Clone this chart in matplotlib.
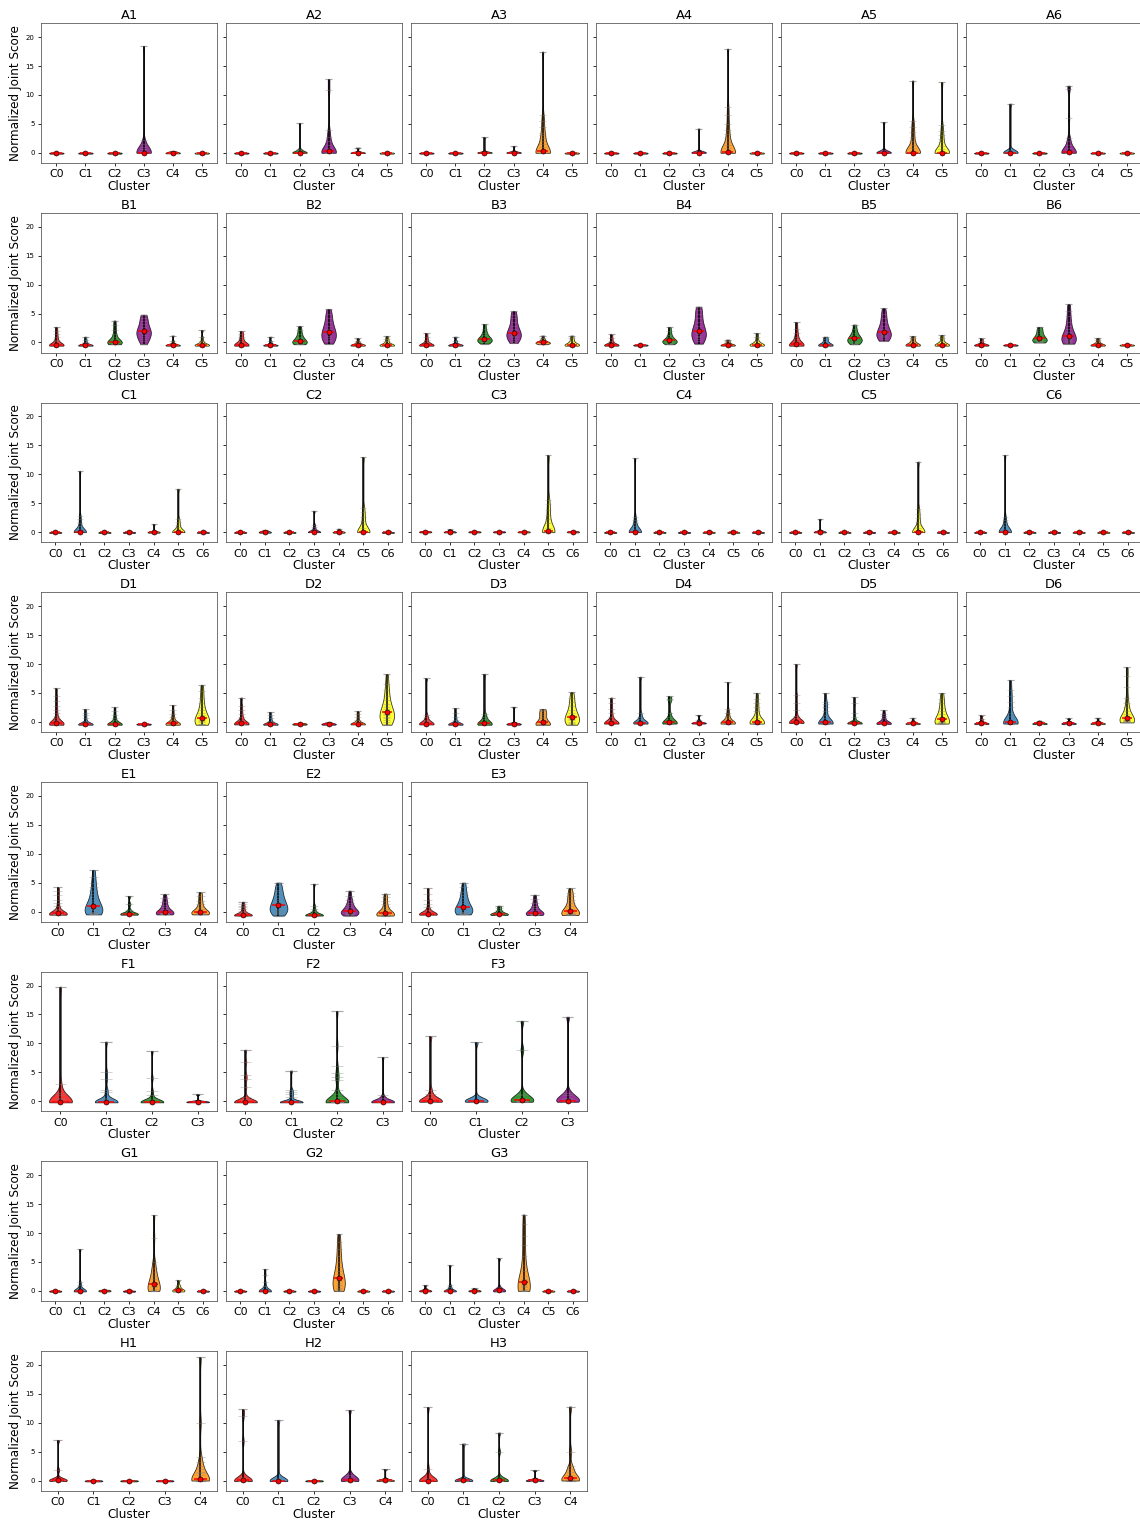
import numpy as np
import matplotlib.pyplot as plt

# one colour per cluster index
colors = ['red', '#1f77b4', 'green', 'purple', 'darkorange', 'yellow', 'grey']

# near-zero clusters
flat = [-0.15, -0.1, -0.05, 0.0, 0.05]
flat_b = [-0.55, -0.5, -0.45, -0.4, -0.35]

# ---- row A ----
A1 = [flat, flat, flat,
      [0, 0, 0, 0, 0, 0, 0, 0, 0, 0, 0.1, 0.3, 0.6, 1.0, 1.5, 2.2, 18.5],
      [-0.1, -0.05, 0.0, 0.05, 0.3], flat]
A2 = [flat, flat,
      [0, 0, 0, 0, 0, 0, 0.05, 0.1, 0.2, 0.4, 0.7, 5.1],
      [0, 0, 0, 0, 0, 0, 0, 0.2, 0.5, 0.9, 1.4, 2.0, 2.8, 4.0, 10.8, 12.7],
      [-0.05, 0, 0, 0.1, 0.9], flat]
A3 = [flat, flat,
      [0, 0, 0, 0, 0, 0.05, 0.1, 0.2, 2.7],
      [0, 0, 0, 0, 0.05, 0.1, 0.3, 1.2],
      [0, 0, 0, 0, 0, 0, 0, 0, 0, 0, 0, 0.5, 1, 1.5, 2, 2.5, 3, 3.5, 4.5, 5.5, 6.5, 17.5],
      flat]
A4 = [flat, flat, flat,
      [0, 0, 0, 0, 0, 0.05, 0.1, 0.2, 0.3, 4.2],
      [0, 0, 0, 0, 0, 0, 0, 0, 0, 0, 0, 0.3, 0.8, 1.3, 1.8, 2.5, 3.2, 4, 5, 6.5, 8, 18],
      flat]
A5 = [flat, flat, flat,
      [0, 0, 0, 0, 0, 0.05, 0.1, 0.3, 0.5, 5.3],
      [0, 0, 0, 0, 0, 0, 0, 0, 0, 0, 0.3, 0.8, 1.3, 2, 2.8, 3.6, 4.5, 5.5, 12.5],
      [0, 0, 0, 0, 0, 0, 0, 0, 0, 0, 0.3, 0.7, 1.2, 1.8, 2.4, 3, 3.8, 4.8, 12.2]]
A6 = [flat,
      [0, 0, 0, 0, 0, 0.05, 0.1, 0.2, 0.4, 8.5],
      flat,
      [0, 0, 0, 0, 0, 0, 0, 0, 0.2, 0.5, 0.9, 1.4, 2, 2.6, 6, 11, 11.6],
      flat, flat]

# ---- row B ----
B1 = [[-0.55, -0.5, -0.5, -0.5, -0.5, -0.5, -0.5, -0.45, -0.4, -0.3, -0.1, 0.2, 0.5, 0.9, 1.4, 2.0, 2.7],
      [-0.55, -0.5, -0.5, -0.5, -0.5, -0.45, -0.4, -0.2, 0.1, 0.5, 1.0],
      [-0.3, -0.25, -0.2, -0.1, 0, 0.05, 0.1, 0.15, 0.3, 0.6, 1.0, 1.5, 2.2, 3.0, 3.8],
      [-0.3, 0.2, 0.6, 1.0, 1.3, 1.6, 1.8, 2.0, 2.3, 2.7, 3.2, 3.8, 4.3, 4.8],
      [-0.55, -0.5, -0.5, -0.5, -0.45, -0.4, -0.3, -0.1, 0.3, 1.2],
      [-0.55, -0.5, -0.5, -0.5, -0.45, -0.4, -0.3, -0.1, 0.3, 0.9, 2.1]]
B2 = [[-0.55, -0.5, -0.5, -0.5, -0.5, -0.45, -0.4, -0.3, -0.1, 0.2, 0.6, 1.0, 1.5, 2.0],
      [-0.55, -0.5, -0.5, -0.5, -0.45, -0.4, -0.2, 0.2, 1.0],
      [-0.3, -0.2, -0.1, 0, 0.1, 0.2, 0.4, 0.7, 1.0, 1.5, 2.1, 2.8],
      [-0.2, 0.2, 0.5, 0.8, 1.1, 1.4, 1.7, 2.0, 2.4, 2.9, 3.5, 4.2, 5.0, 5.8],
      [-0.55, -0.5, -0.5, -0.45, -0.4, -0.3, -0.1, 0.2, 0.7],
      [-0.55, -0.5, -0.5, -0.5, -0.45, -0.4, -0.2, 0.2, 0.6, 1.1]]
B3 = [[-0.55, -0.5, -0.5, -0.5, -0.5, -0.45, -0.4, -0.2, 0.1, 0.5, 1.0, 1.6],
      [-0.55, -0.5, -0.5, -0.45, -0.4, -0.2, 0.3, 1.0],
      [-0.2, 0, 0.1, 0.3, 0.4, 0.5, 0.6, 0.8, 1.0, 1.3, 1.7, 2.3, 3.2],
      [-0.1, 0.3, 0.6, 0.9, 1.1, 1.3, 1.5, 1.7, 2.0, 2.4, 2.9, 3.5, 4.2, 4.8, 5.4],
      [-0.3, -0.2, -0.1, -0.05, 0, 0.05, 0.2, 0.4, 0.7, 1.2],
      [-0.55, -0.5, -0.5, -0.45, -0.4, -0.3, -0.1, 0.3, 0.7, 1.2]]
B4 = [[-0.55, -0.5, -0.5, -0.5, -0.45, -0.4, -0.3, -0.1, 0.3, 0.8, 1.4],
      flat_b,
      [-0.3, -0.1, 0, 0.1, 0.2, 0.3, 0.4, 0.6, 0.9, 1.3, 1.9, 2.7],
      [-0.2, 0.2, 0.6, 0.9, 1.2, 1.5, 1.7, 2.0, 2.4, 2.9, 3.5, 4.2, 5.0, 5.7, 6.2],
      [-0.55, -0.5, -0.5, -0.45, -0.4, -0.3, -0.1, 0.2, 0.5],
      [-0.55, -0.5, -0.5, -0.45, -0.4, -0.3, -0.1, 0.3, 0.9, 1.6]]
B5 = [[-0.55, -0.5, -0.5, -0.5, -0.5, -0.45, -0.4, -0.3, -0.1, 0.2, 0.6, 1.0, 1.6, 2.4, 3.5],
      [-0.55, -0.5, -0.5, -0.45, -0.4, -0.2, 0.2, 0.6, 1.0],
      [-0.3, -0.1, 0.1, 0.3, 0.4, 0.6, 0.8, 1.0, 1.3, 1.7, 2.3, 3.1],
      [0.3, 0.6, 0.9, 1.1, 1.3, 1.5, 1.7, 2.0, 2.4, 2.9, 3.5, 4.2, 5.0, 5.9],
      [-0.55, -0.5, -0.5, -0.45, -0.4, -0.3, -0.1, 0.3, 0.7, 1.1],
      [-0.55, -0.5, -0.5, -0.45, -0.4, -0.3, -0.1, 0.3, 0.8, 1.3]]
B6 = [[-0.55, -0.5, -0.5, -0.45, -0.4, -0.3, -0.1, 0.3, 0.7],
      flat_b,
      [0, 0.1, 0.2, 0.3, 0.4, 0.5, 0.6, 0.8, 1.0, 1.3, 1.6, 2.0, 2.4, 2.7],
      [-0.2, -0.1, 0, 0.2, 0.4, 0.6, 0.8, 0.9, 1.1, 1.4, 1.8, 2.3, 2.9, 3.6, 4.5, 5.5, 6.6],
      [-0.55, -0.5, -0.5, -0.45, -0.4, -0.3, 0, 0.4, 0.8],
      flat_b]

# ---- row C ----
C1 = [flat,
      [0, 0, 0, 0, 0, 0, 0, 0, 0, 0.1, 0.3, 0.6, 1.0, 1.5, 2.2, 2.8, 10.6],
      flat, flat,
      [-0.1, -0.05, 0, 0, 0.05, 0.1, 1.4],
      [0, 0, 0, 0, 0, 0, 0, 0, 0.2, 0.5, 0.9, 1.3, 1.8, 2.3, 7.5],
      flat]
C2 = [flat,
      [-0.1, -0.05, 0, 0.05, 0.1, 0.3],
      flat,
      [0, 0, 0, 0, 0, 0, 0, 0.1, 0.3, 0.6, 0.9, 1.3, 3.7],
      [-0.1, -0.05, 0, 0.05, 0.1, 0.6],
      [0, 0, 0, 0, 0, 0, 0, 0, 0, 0.3, 0.8, 1.4, 2.0, 2.7, 3.4, 4.2, 13.0],
      flat]
C3 = [[-0.05, 0, 0.05, 0.1, 0.2],
      [-0.05, 0, 0.05, 0.1, 0.5],
      [-0.05, 0, 0.05, 0.1, 0.15],
      [-0.05, 0, 0.05, 0.1, 0.15],
      [-0.05, 0, 0.05, 0.1, 0.15],
      [0, 0, 0, 0, 0, 0, 0, 0, 0, 0.3, 0.8, 1.5, 2.2, 3, 3.8, 4.8, 5.6, 13.3],
      [-0.05, 0, 0.05, 0.1, 0.2]]
C4 = [flat,
      [0, 0, 0, 0, 0, 0, 0, 0, 0, 0.1, 0.3, 0.6, 1.0, 1.5, 2.1, 2.7, 12.8],
      flat, flat, flat, flat, flat]
C5 = [flat,
      [-0.05, 0, 0, 0.05, 0.1, 0.3, 2.3],
      flat, flat, flat,
      [0, 0, 0, 0, 0, 0, 0, 0, 0, 0.3, 0.7, 1.2, 1.8, 2.5, 3.2, 4.0, 12.2],
      flat]
C6 = [flat,
      [0, 0, 0, 0, 0, 0, 0, 0, 0, 0.1, 0.3, 0.6, 1.0, 1.5, 2.1, 2.7, 13.3],
      flat, flat, flat, flat, flat]

# ---- row D ----
D1 = [[-0.5] * 6 + [-0.45, -0.4, -0.4, -0.35, -0.3, -0.25, -0.2, -0.1, 0, 0.1, 0.3, 0.6, 1.0, 1.5, 2.1, 2.8, 3.6, 4.5, 5.8],
      [-0.5] * 5 + [-0.45, -0.4, -0.4, -0.35, -0.3, -0.2, -0.1, 0.2, 0.6, 1.1, 1.6, 2.2],
      [-0.5] * 5 + [-0.45, -0.4, -0.4, -0.3, -0.2, 0, 0.3, 0.7, 1.2, 1.8, 2.5],
      [-0.5, -0.45, -0.4, -0.4, -0.35, -0.3],
      [-0.5] * 3 + [-0.45, -0.4, -0.4, -0.35, -0.3, -0.2, -0.1, 0.1, 0.4, 0.8, 1.3, 2.0, 2.9],
      [-0.5, -0.45, -0.4, -0.3, -0.1, 0.1, 0.3, 0.5, 0.6, 0.8, 1.1, 1.5, 2.0, 2.6, 3.3, 4.2, 5.3, 6.4]]
D2 = [[-0.45] * 5 + [-0.4, -0.4, -0.35, -0.3, -0.2, -0.1, 0.1, 0.4, 0.8, 1.3, 2.0, 2.8, 4.2],
      [-0.5] * 4 + [-0.45, -0.4, -0.4, -0.35, -0.3, -0.1, 0.2, 0.6, 1.1, 1.7],
      [-0.5, -0.45, -0.4, -0.35, -0.3, -0.2],
      [-0.5, -0.45, -0.4, -0.35, -0.3, -0.1],
      [-0.45] * 4 + [-0.4, -0.4, -0.35, -0.3, -0.2, 0, 0.3, 0.8, 1.3, 1.8],
      [-0.5, -0.3, 0, 0.3, 0.6, 0.9, 1.1, 1.3, 1.5, 1.8, 2.2, 2.6, 3.1, 3.7, 4.5, 5.5, 6.5, 8.2]]
D3 = [[-0.45] * 5 + [-0.4, -0.4, -0.35, -0.3, -0.2, -0.1, 0.1, 0.4, 0.8, 1.2, 7.5],
      [-0.5] * 4 + [-0.45, -0.4, -0.4, -0.35, -0.3, -0.1, 0.3, 0.8, 1.5, 2.4],
      [-0.5] * 3 + [-0.45, -0.4, -0.35, -0.3, -0.2, 0, 0.2, 0.5, 0.9, 1.4, 8.3],
      [-0.5, -0.45, -0.4, -0.35, -0.3, -0.2, 2.6],
      [-0.5] * 4 + [-0.45, -0.4, -0.3, -0.2, 0, 0.3, 0.6, 0.9, 1.2, 1.5, 1.8, 2.0, 2.2],
      [-0.5, -0.4, -0.2, 0, 0.3, 0.5, 0.7, 0.9, 1.2, 1.6, 2.1, 2.7, 3.4, 4.2, 5.1]]
D4 = [[-0.3] * 6 + [-0.25, -0.2, -0.15, -0.1, 0.1, 0.4, 0.9, 1.5, 2.3, 3.2, 4.2],
      [-0.3] * 4 + [-0.25, -0.2, -0.15, -0.1, 0, 0.2, 0.5, 0.9, 1.5, 7.8],
      [-0.3] * 4 + [-0.25, -0.2, -0.15, -0.1, 0, 0.2, 0.5, 0.9, 1.5, 3.7, 4.0, 4.4],
      [-0.3, -0.25, -0.2, -0.15, -0.1, 0.3, 1.2],
      [-0.3] * 4 + [-0.25, -0.2, -0.15, -0.1, 0, 0.3, 0.6, 1.0, 1.5, 2.2, 6.9],
      [-0.3, -0.3, -0.25, -0.25, -0.2, -0.2, -0.2, -0.15, -0.1, 0, 0.3, 0.7, 1.2, 1.8, 2.5, 3.2, 4.0, 5.0]]
D5 = [[-0.2] * 6 + [-0.15, -0.1, -0.1, -0.05, 0, 0.1, 0.3, 0.6, 1.0, 2.0, 3.2, 4.6, 10.0],
      [-0.3] * 5 + [-0.25, -0.2, -0.2, -0.15, -0.1, 0, 0.3, 0.7, 1.2, 1.8, 2.5, 3.0, 3.5, 5.0],
      [-0.3] * 5 + [-0.25, -0.2, -0.2, -0.15, -0.1, 0, 0.3, 0.8, 1.5, 3.2, 4.3],
      [-0.35] * 4 + [-0.3, -0.25, -0.2, -0.15, -0.1, 0.2, 0.6, 1.0, 1.4, 2.0],
      [-0.4, -0.35, -0.3, -0.3, -0.25, -0.2, 0.2, 0.7],
      [-0.3, -0.25, -0.2, -0.2, -0.1, 0, 0.2, 0.5, 0.9, 1.3, 1.8, 2.4, 3.2, 4.0, 5.0]]
D6 = [[-0.4, -0.35, -0.3, -0.3, -0.25, -0.2, 0.1, 0.5, 1.1],
      [-0.3] * 5 + [-0.25, -0.2, -0.15, -0.1, 0, 0.2, 0.5, 1.0, 1.6, 2.6, 3.5, 4.5, 5.5, 7.2],
      [-0.4, -0.35, -0.3, -0.25, -0.2, 0.2],
      [-0.4, -0.35, -0.3, -0.25, -0.2, 0, 0.6],
      [-0.4, -0.35, -0.3, -0.25, -0.2, 0.1, 0.7],
      [-0.1, -0.05, 0, 0.05, 0.1, 0.2, 0.2, 0.3, 0.4, 0.5, 0.7, 1.0, 1.4, 1.9, 2.5, 3.2, 4.2, 6.0, 8.0, 9.4]]

# ---- row E ----
E1 = [[-0.55] * 3 + [-0.5] * 4 + [-0.45, -0.45, -0.4, -0.35, -0.3, -0.2, -0.1, 0, 0.2, 0.5, 0.9, 1.4, 2.0, 2.8, 3.5, 4.2],
      [-0.5, -0.45, -0.4, -0.3, -0.2, -0.1, 0, 0.2, 0.4, 0.6, 0.8, 1.0, 1.3, 1.6, 2.0, 2.5, 3.0, 3.6, 4.3, 5.0, 6.0, 7.2],
      [-0.55, -0.5, -0.5, -0.45, -0.4, -0.35, -0.2, 0.3, 1.3, 2.7],
      [-0.5, -0.45, -0.4, -0.35, -0.3, -0.25, -0.2, -0.1, 0.1, 0.4, 0.8, 1.2, 1.7, 2.3, 3.0],
      [-0.5, -0.45, -0.4, -0.35, -0.3, -0.25, -0.2, -0.1, 0.1, 0.4, 0.8, 1.3, 1.9, 2.6, 3.3]]
E2 = [[-0.7] * 6 + [-0.65, -0.65, -0.6, -0.6, -0.55, -0.5, -0.4, -0.3, -0.1, 0.1, 0.4, 0.7, 1.0, 1.3, 1.7],
      [-0.7, -0.5, -0.3, -0.1, 0.1, 0.3, 0.5, 0.7, 0.9, 1.1, 1.4, 1.7, 2.0, 2.4, 2.8, 3.3, 3.8, 4.4, 5.0],
      [-0.7] * 5 + [-0.65, -0.6, -0.6, -0.55, -0.5, -0.4, -0.2, 0.1, 0.5, 1.0, 4.8],
      [-0.7, -0.6, -0.5, -0.4, -0.3, -0.2, -0.1, 0, 0.1, 0.3, 0.5, 0.8, 1.1, 1.5, 2.0, 2.6, 3.6],
      [-0.7, -0.7, -0.65, -0.6, -0.6, -0.55, -0.5, -0.4, -0.3, -0.1, 0.1, 0.4, 0.8, 1.3, 1.9, 2.5, 3.1]]
E3 = [[-0.55] * 5 + [-0.5, -0.5, -0.45, -0.4, -0.35, -0.3, -0.2, 0, 0.3, 0.7, 1.3, 2.0, 3.0, 4.0],
      [-0.5, -0.4, -0.3, -0.2, -0.1, 0, 0.2, 0.4, 0.6, 0.8, 1.1, 1.4, 1.8, 2.3, 2.8, 3.4, 4.2, 5.0],
      [-0.6, -0.6, -0.55, -0.5, -0.45, -0.4, -0.3, -0.1, 0.2, 0.6, 1.0],
      [-0.6, -0.55, -0.5, -0.45, -0.4, -0.35, -0.3, -0.2, 0, 0.3, 0.6, 1.0, 1.5, 2.1, 2.9],
      [-0.6, -0.55, -0.5, -0.45, -0.4, -0.35, -0.3, -0.1, 0.2, 0.5, 0.9, 1.4, 2.0, 2.6, 3.2, 4.0]]

# ---- row F ----
F1 = [[-0.2] * 8 + [-0.15, -0.15, -0.1, -0.1, -0.05, 0, 0.1, 0.3, 0.6, 1.0, 1.5, 3.0, 19.8],
      [-0.2] * 8 + [-0.15, -0.1, -0.1, -0.05, 0, 0.1, 0.3, 0.6, 1.6, 2.0, 3.8, 5.0, 10.3],
      [-0.2] * 8 + [-0.15, -0.1, -0.1, -0.05, 0, 0.1, 0.3, 1.0, 1.8, 4.0, 8.7],
      [-0.2, -0.2, -0.15, -0.1, -0.1, -0.05, 0, 1.2]]
F2 = [[-0.2] * 8 + [-0.15, -0.1, -0.1, -0.05, 0, 0.1, 0.3, 0.8, 2.4, 3.8, 4.5, 6.8, 8.9],
      [-0.2] * 8 + [-0.15, -0.1, -0.05, 0, 0.1, 0.8, 1.2, 1.6, 2.0, 5.3],
      [-0.2] * 8 + [-0.15, -0.15, -0.1, -0.1, -0.05, 0, 0.1, 0.2, 0.4, 0.7, 1.2, 2.0, 3.6, 4.2, 4.8, 6.0, 9.6, 15.6],
      [-0.2] * 6 + [-0.15, -0.1, -0.1, -0.05, 0, 0.1, 0.2, 0.5, 1.0, 7.6]]
F3 = [[-0.1] * 5 + [-0.05, 0, 0, 0.05, 0.1, 0.2, 0.4, 0.7, 1.2, 2.0, 11.2],
      [-0.1, -0.05, 0, 0, 0.05, 0.1, 0.2, 0.4, 10.2],
      [-0.1, -0.05, 0, 0, 0.05, 0.1, 0.3, 0.6, 1.0, 1.3, 8.9, 13.9],
      [-0.1, -0.05, 0, 0, 0.05, 0.1, 0.3, 0.6, 1.0, 1.5, 14.6]]

# ---- row G ----
G1 = [flat,
      [-0.1] * 4 + [-0.05, 0, 0, 0.05, 0.1, 0.2, 0.4, 1.0, 1.5, 7.2],
      [-0.1, -0.05, 0, 0.05, 0.1, 0.2],
      flat,
      [0, 0, 0, 0, 0.1, 0.3, 0.6, 0.9, 1.2, 1.6, 2.0, 2.6, 3.2, 4.0, 5.0, 9.2, 13.1],
      [-0.1, -0.05, 0, 0.05, 0.1, 0.3, 0.6, 1.0, 1.8],
      flat]
G2 = [flat,
      [-0.1] * 4 + [-0.05, 0, 0.05, 0.1, 0.3, 0.8, 1.5, 2.8, 3.8],
      flat, flat,
      [0, 0.1, 0.3, 0.5, 0.8, 1.1, 1.4, 1.7, 2.0, 2.4, 2.9, 3.5, 4.2, 5.0, 6.0, 7.2, 8.5, 9.8],
      flat, flat]
G3 = [[-0.1, -0.05, 0, 0.05, 0.1, 0.4, 1.0],
      [-0.1] * 3 + [-0.05, 0, 0.05, 0.1, 0.3, 0.6, 1.0, 4.4],
      [-0.1, -0.05, 0, 0.05, 0.1, 0.5],
      [-0.1, -0.05, 0, 0, 0.05, 0.1, 0.2, 0.4, 0.7, 5.6],
      [0, 0, 0, 0.1, 0.2, 0.4, 0.6, 0.8, 1.1, 1.5, 2.0, 2.6, 3.4, 4.5, 6.0, 8.0, 9.5, 11.5, 13.2],
      flat, flat]

# ---- row H ----
H1 = [[-0.1, -0.05, 0, 0, 0.05, 0.1, 0.2, 0.3, 1.8, 7.0],
      flat, flat, flat,
      [0, 0, 0, 0, 0, 0, 0, 0, 0, 0, 0.2, 0.5, 0.9, 1.3, 1.5, 2.0, 2.6, 3.2, 4.0, 10.0, 21.3]]
H2 = [[-0.1] * 5 + [-0.05, 0, 0, 0.05, 0.1, 0.2, 0.4, 0.6, 6.8, 11.2, 12.3],
      [-0.1] * 3 + [-0.05, 0, 0, 0.05, 0.1, 0.2, 0.4, 10.5],
      flat,
      [-0.1, -0.05, 0, 0, 0.05, 0.1, 0.3, 0.6, 1.0, 12.2],
      [-0.1, -0.05, 0, 0.05, 0.1, 0.3, 2.0]]
H3 = [[-0.1] * 4 + [-0.05, 0, 0, 0.05, 0.1, 0.2, 0.4, 2.0, 12.7],
      [-0.1, -0.05, 0, 0, 0.05, 0.1, 0.3, 6.4],
      [-0.1] * 3 + [-0.05, 0, 0, 0.05, 0.1, 0.3, 0.6, 5.0, 8.3],
      [-0.1, -0.05, 0, 0.05, 0.1, 0.3, 1.8],
      [0, 0, 0, 0, 0, 0.1, 0.3, 0.6, 1.0, 1.5, 2.0, 2.5, 5.0, 12.8]]

grid = [
    [("A1", A1), ("A2", A2), ("A3", A3), ("A4", A4), ("A5", A5), ("A6", A6)],
    [("B1", B1), ("B2", B2), ("B3", B3), ("B4", B4), ("B5", B5), ("B6", B6)],
    [("C1", C1), ("C2", C2), ("C3", C3), ("C4", C4), ("C5", C5), ("C6", C6)],
    [("D1", D1), ("D2", D2), ("D3", D3), ("D4", D4), ("D5", D5), ("D6", D6)],
    [("E1", E1), ("E2", E2), ("E3", E3)],
    [("F1", F1), ("F2", F2), ("F3", F3)],
    [("G1", G1), ("G2", G2), ("G3", G3)],
    [("H1", H1), ("H2", H2), ("H3", H3)],
]


def bw_rule(kde):
    # robust bandwidth, with a floor tied to the data range
    x = kde.dataset[0]
    sd = x.std(ddof=1)
    q1, q3 = np.percentile(x, [25, 75])
    spread = min(sd, (q3 - q1) / 1.34)
    bw = max(0.9 * spread * x.size ** -0.2, 0.05 * np.ptp(x), 0.15)
    return bw / sd


def draw_panel(ax, title, groups):
    pos = np.arange(len(groups))
    parts = ax.violinplot(groups, positions=pos, widths=0.5, bw_method=bw_rule)
    for body, col in zip(parts['bodies'], colors):
        body.set_facecolor(col)
        body.set_edgecolor('black')
        body.set_linewidth(0.8)
        body.set_alpha(0.8)
    parts['cbars'].set_color('black')
    parts['cbars'].set_linewidth(1.5)
    for key in ('cmaxes', 'cmins'):
        parts[key].set_color('grey')
        parts[key].set_alpha(0.5)
        parts[key].set_linewidth(1.2)

    for x, vals in zip(pos, groups):
        ax.hlines(vals, x - 0.125, x + 0.125, color='grey', alpha=0.35, lw=1)
        med = np.median(vals)
        ax.hlines(med, x - 0.18, x + 0.18, color='red', lw=1.5, zorder=4)
        ax.plot(x, med, 'o', color='red', mec='black', mew=0.6, ms=5, zorder=5)

    ax.set_xticks(pos, [f"C{i}" for i in pos], fontsize=11)
    ax.set_yticks([0, 5, 10, 15, 20])
    ax.tick_params(axis='y', labelsize=7, length=3)
    ax.tick_params(axis='x', length=3)
    ax.set_ylim(-1.75, 22.4)
    ax.set_xlabel('Cluster', fontsize=12, labelpad=0.5)
    ax.set_title(title, fontsize=13, pad=4)
    for sp in ax.spines.values():
        sp.set_color('#555555')


fig, axes = plt.subplots(8, 6, figsize=(1140 / 72, 1520 / 72), dpi=72, sharey=True)
fig.subplots_adjust(left=0.036, right=1.0018, top=0.9847, bottom=0.0193,
                    wspace=0.051, hspace=0.358)

for r, row in enumerate(grid):
    for c in range(6):
        ax = axes[r, c]
        if c >= len(row):
            ax.remove()
            continue
        title, groups = row[c]
        draw_panel(ax, title, groups)
        if c == 0:
            ax.set_ylabel('Normalized Joint Score', fontsize=12)

fig.savefig('out.png', dpi=72, facecolor='white')
